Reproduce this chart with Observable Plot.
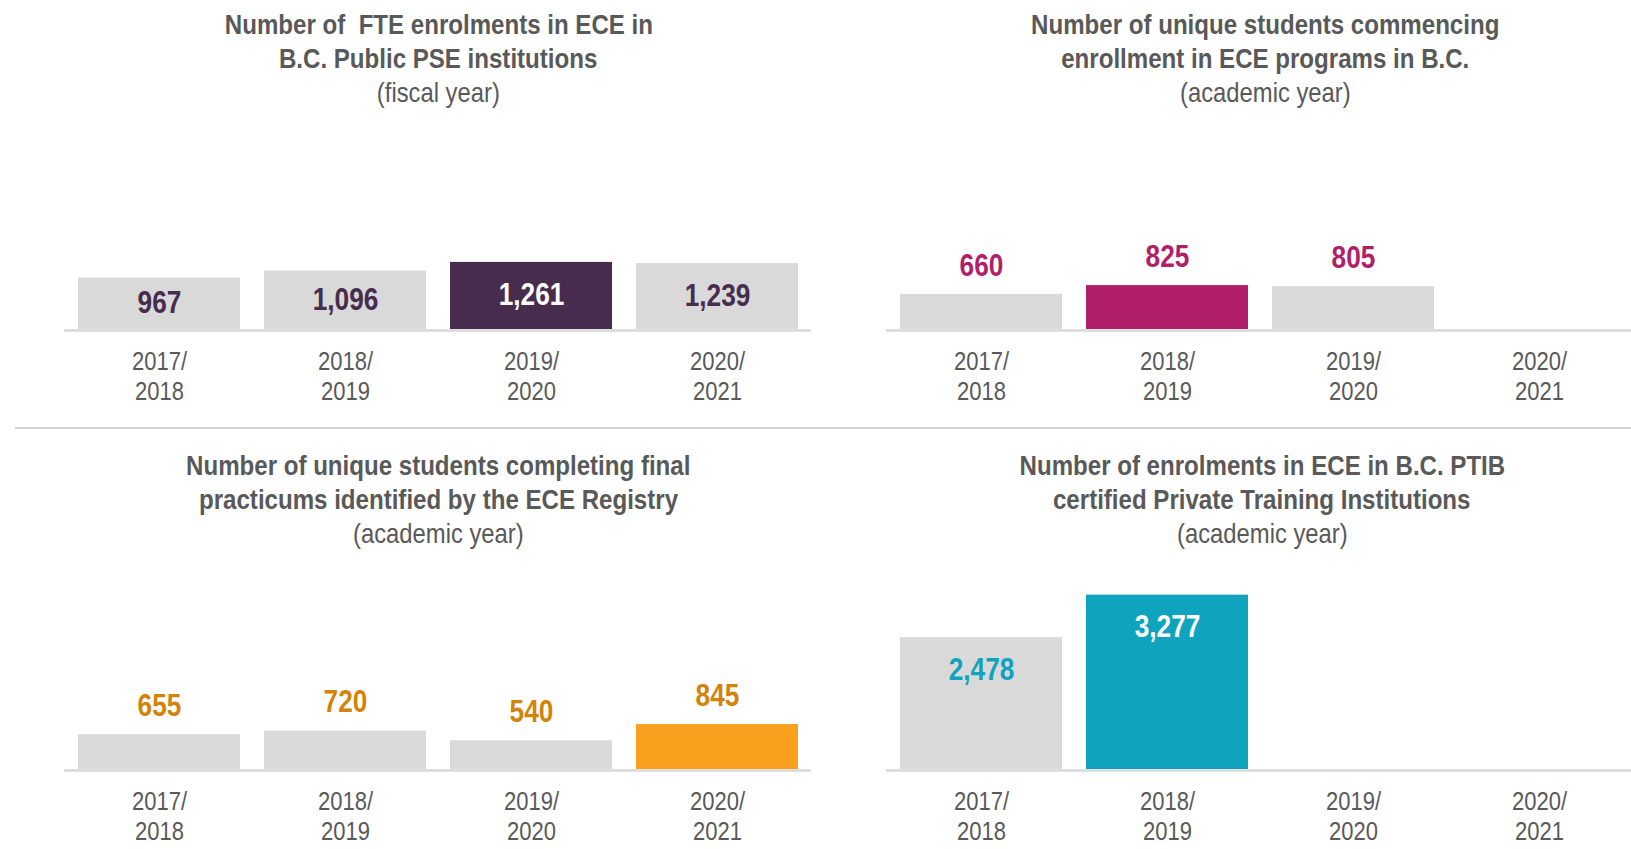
<!DOCTYPE html>
<html>
<head>
<meta charset="utf-8">
<script src="https://cdn.jsdelivr.net/npm/d3@7"></script>
<script src="https://cdn.jsdelivr.net/npm/@observablehq/plot@0.6"></script>
<style>
  html, body { margin: 0; padding: 0; background: #fff; }
  body { width: 1631px; height: 849px; overflow: hidden; position: relative;
         font-family: "Liberation Sans", Arial, sans-serif; }
  .title { position: absolute; width: 800px; text-align: center; color: #595959;
           font-size: 28px; line-height: 34px; }
  .title .t { font-weight: bold; white-space: pre; }
  .title .s { font-weight: normal; white-space: pre; }
  .title span { display: inline-block; transform-origin: 50% 50%; }
  .title .t span { transform: scaleX(0.86); }
  .title .s span { transform: scaleX(0.85); }
  .panel { position: absolute; width: 825px; }
  .panel svg { max-width: none !important; display: block; }
  .sep { position: absolute; left: 15px; top: 427px; width: 1616px; height: 2px; background: #d3d3d3; }
</style>
</head>
<body>
<script>
// ---- data ----
const years = ["2017/2018", "2018/2019", "2019/2020", "2020/2021"];
const fteEnrolments = [967, 1096, 1261, 1239];
const commencingStudents = [660, 825, 805, null];
const completingStudents = [655, 720, 540, 845];
const ptibEnrolments = [2478, 3277, null, null];

const titles = [
  ["Number of  FTE enrolments in ECE in", "B.C. Public PSE institutions", "(fiscal year)"],
  ["Number of unique students commencing", "enrollment in ECE programs in B.C.", "(academic year)"],
  ["Number of unique students completing final", "practicums identified by the ECE Registry", "(academic year)"],
  ["Number of enrolments in ECE in B.C. PTIB", "certified Private Training Institutions", "(academic year)"]
];

const FONT = '"Liberation Sans", Arial, sans-serif';
const GRAY = "#d9d9d9";

const panels = [
  {values: fteEnrolments, highlight: "2019/2020", color: "#472c4d", labelColor: "#472c4d", mode: "center",
   left: -1.5, top: 108.5, titleCx: 438.5, titleTop: 8},
  {values: commencingStudents, highlight: "2018/2019", color: "#b21f69", labelColor: "#b21f69", mode: "above",
   left: 820.5, top: 108.5, titleCx: 1265, titleTop: 8},
  {values: completingStudents, highlight: "2020/2021", color: "#f9a01f", labelColor: "#d4830a", mode: "above",
   left: -1.5, top: 549, titleCx: 438.5, titleTop: 448.5},
  {values: ptibEnrolments, highlight: "2018/2019", color: "#0fa3be", labelColor: "#0fa3be", mode: "insideTop",
   left: 820.5, top: 549, titleCx: 1262, titleTop: 448.5}
];

const fmt = d3.format(",");

// horizontally condense a text element about its own anchor (text is positioned by its transform)
function squeeze(el, s) {
  const t = el.getAttribute("transform") || "";
  el.setAttribute("transform", `${t} scale(${s},1)`);
}

panels.forEach((p, i) => {
  // title
  const t = document.createElement("div");
  t.className = "title";
  t.style.left = (p.titleCx - 400) + "px";
  t.style.top = p.titleTop + "px";
  const [l1, l2, sub] = titles[i];
  t.innerHTML = `<div class="t"><span></span></div><div class="t"><span></span></div><div class="s"><span></span></div>`;
  t.children[0].firstChild.textContent = l1;
  t.children[1].firstChild.textContent = l2;
  t.children[2].firstChild.textContent = sub;
  document.body.appendChild(t);

  const data = years.map((y, k) => ({year: y, value: p.values[k]}));
  const defined = data.filter(d => d.value != null);

  let textOpts;
  if (p.mode === "center") {
    textOpts = {x: "year", y: d => d.value / 2, dy: -1, lineAnchor: "middle"};
  } else if (p.mode === "above") {
    textOpts = {x: "year", y: "value", dy: -29, lineAnchor: "middle"};
  } else {
    textOpts = {x: "year", y: "value", dy: 32, lineAnchor: "middle"};
  }
  const labelFill = d => {
    if (p.mode === "above") return p.labelColor;
    return d.year === p.highlight ? "#ffffff" : p.labelColor;
  };

  const chart = Plot.plot({
    width: 825,
    height: 300,
    marginLeft: 65,
    marginRight: 13,
    marginTop: 33.8,
    marginBottom: 80,
    style: {fontFamily: FONT, color: "#595959", background: "transparent", overflow: "visible", maxWidth: "none"},
    x: {domain: years, paddingInner: 0.131, paddingOuter: 0.064, label: null},
    y: {domain: [0, 3500], axis: null},
    marks: [
      Plot.barY(defined, {x: "year", y: "value", fill: d => d.year === p.highlight ? p.color : GRAY}),
      Plot.ruleY([0], {stroke: GRAY, strokeWidth: 2.5, dy: 1}),
      Plot.text(defined, {...textOpts, text: d => fmt(d.value), fill: labelFill,
        fontSize: 32, fontWeight: "bold", textAnchor: "middle"}),
      Plot.axisX({tickSize: 0, tickPadding: 19, fontSize: 25, lineHeight: 1.2,
        tickFormat: d => d.replace("/", "/\n"), label: null, fill: "#595959"})
    ]
  });
  chart.querySelectorAll('g[aria-label="text"] text').forEach(el => squeeze(el, 0.82));
  chart.querySelectorAll('g[aria-label="x-axis tick label"] text').forEach(el => squeeze(el, 0.88));

  const wrap = document.createElement("div");
  wrap.className = "panel";
  wrap.style.left = p.left + "px";
  wrap.style.top = p.top + "px";
  wrap.appendChild(chart);
  document.body.appendChild(wrap);
});

const sep = document.createElement("div");
sep.className = "sep";
document.body.appendChild(sep);
</script>
</body>
</html>
